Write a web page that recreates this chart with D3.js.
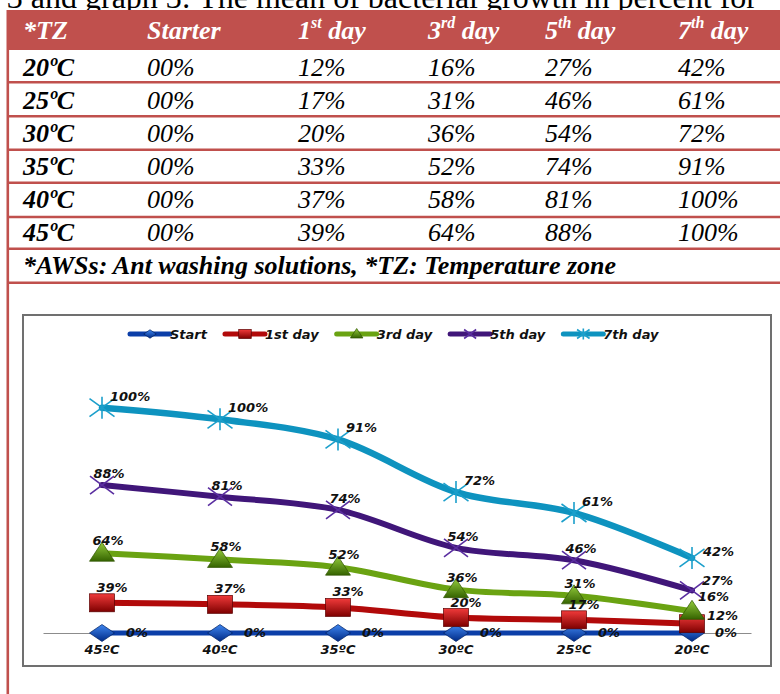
<!DOCTYPE html>
<html>
<head>
<meta charset="utf-8">
<script src="https://cdn.jsdelivr.net/npm/d3@7"></script>
<style>
  html, body { margin: 0; padding: 0; background: #fff; }
  svg { display: block; }
</style>
</head>
<body>
<svg id="chart" width="780" height="694"></svg>
<script>
// ---------- data ----------
const captionText = "Table 3 and graph 3: The mean of bacterial growth in percent for";
const categories = ["45ºC", "40ºC", "35ºC", "30ºC", "25ºC", "20ºC"];
const seriesNames = ["Start", "1st day", "3rd day", "5th day", "7th day"];
const startVals = [0, 0, 0, 0, 0, 0];
const day1Vals = [39, 37, 33, 20, 17, 12];
const day3Vals = [64, 58, 52, 36, 31, 16];
const day5Vals = [88, 81, 74, 54, 46, 27];
const day7Vals = [100, 100, 91, 72, 61, 42];
const tableHeader = ["*TZ", "Starter", "1st day", "3rd day", "5th day", "7th day"];
const tableZones = ["20ºC", "25ºC", "30ºC", "35ºC", "40ºC", "45ºC"];
const footnote = "*AWSs: Ant washing solutions, *TZ: Temperature zone";
const yMax = 350;

// ---------- styles ----------
const TABLE_RED = "#c0504d";
const serifFont = "'Liberation Serif', 'Times New Roman', serif";
const sansFont = "'DejaVu Sans', Verdana, sans-serif";
const seriesStyle = [
  {color: "#0b3ea8", width: 5, marker: "diamond", lab: {dx: 24, dy: 4, anchor: "start"}, last: {dx: 23, dy: 4}},
  {color: "#b20a0a", width: 6, marker: "square", lab: {dx: 10, dy: -11, anchor: "middle"}, last: {dx: 15, dy: -4}},
  {color: "#6aa312", width: 6, marker: "triangle", lab: {dx: 6, dy: -8, anchor: "middle"}, last: {dx: 6, dy: -10}},
  {color: "#401679", width: 6, marker: "x", lab: {dx: 7, dy: -7, anchor: "middle"}, last: {dx: 10, dy: -5}},
  {color: "#0e93bf", width: 6.5, marker: "star", lab: {dx: 8, dy: -7, anchor: "start"}, last: {dx: 11, dy: -2}}
];

const svg = d3.select("#chart");
const defs = svg.append("defs");
function grad(id, c1, c2) {
  const g = defs.append("linearGradient").attr("id", id).attr("x1", 0).attr("y1", 0).attr("x2", 0).attr("y2", 1);
  g.append("stop").attr("offset", "0%").attr("stop-color", c1);
  g.append("stop").attr("offset", "100%").attr("stop-color", c2);
}
grad("gBlue", "#3f86f0", "#002a86");
grad("gRed", "#f03a3a", "#7e0000");
grad("gGreen", "#93cc3c", "#356300");

// ---------- caption (cut at top) ----------
svg.append("text")
  .attr("x", 757).attr("y", 8)
  .attr("text-anchor", "end")
  .style("font-family", serifFont).style("font-size", "32px")
  .text(captionText);

// ---------- table ----------
const colX = [23, 147, 298, 428, 545, 678];
const rowBase = [76, 109, 142, 175, 208, 241];
const sepY = [82.2, 116.2, 149.8, 182.8, 217, 248.8, 282.8];

svg.append("rect").attr("x", 7).attr("y", 10).attr("width", 773).attr("height", 40).attr("fill", TABLE_RED);
svg.selectAll("line.sep").data(sepY).join("line")
  .attr("class", "sep")
  .attr("x1", 7).attr("x2", 780).attr("y1", d => d).attr("y2", d => d)
  .attr("stroke", TABLE_RED).attr("stroke-width", 2.6);
svg.append("line").attr("x1", 7.8).attr("x2", 7.8).attr("y1", 10).attr("y2", 694)
  .attr("stroke", TABLE_RED).attr("stroke-width", 2.6);

// header
const hdr = svg.append("g").style("font-family", serifFont).style("font-size", "26px")
  .style("font-style", "italic").style("font-weight", "bold").attr("fill", "#fff");
tableHeader.forEach((h, i) => {
  const t = hdr.append("text").attr("x", colX[i]).attr("y", 38.5);
  const m = h.match(/^(\d+)(st|nd|rd|th)(.*)$/);
  if (m) {
    t.append("tspan").text(m[1]);
    t.append("tspan").attr("dy", -11).style("font-size", "16px").text(m[2]);
    t.append("tspan").attr("dy", 11).text(m[3]);
  } else {
    t.text(h);
  }
});

// body rows (table lists 20ºC first: reverse of chart order)
const allSeries = [startVals, day1Vals, day3Vals, day5Vals, day7Vals];
const fmt2 = d3.format("02d");
const body = svg.append("g").style("font-family", serifFont).style("font-size", "26px")
  .style("font-style", "italic").attr("fill", "#000");
tableZones.forEach((z, r) => {
  const ci = categories.indexOf(z);
  body.append("text").attr("x", colX[0]).attr("y", rowBase[r]).style("font-weight", "bold").text(z);
  allSeries.forEach((s, j) => {
    body.append("text").attr("x", colX[j + 1]).attr("y", rowBase[r]).text(fmt2(s[ci]) + "%");
  });
});
body.append("text").attr("x", colX[0]).attr("y", 274).style("font-weight", "bold").text(footnote);

// ---------- chart ----------
svg.append("rect").attr("x", 23).attr("y", 315).attr("width", 748).attr("height", 351)
  .attr("fill", "#fff").attr("stroke", "#707070").attr("stroke-width", 2);

const xBand = d3.scaleBand().domain(categories).range([43, 751]);
const xc = c => xBand(c) + xBand.bandwidth() / 2;
const y = d3.scaleLinear().domain([0, yMax]).range([633, 362]);

const table = categories.map((c, i) => {
  const o = {cat: c};
  seriesNames.forEach((n, j) => o[n] = allSeries[j][i]);
  return o;
});
const stacked = d3.stack().keys(seriesNames)(table);

// axis
const axisG = svg.append("g").attr("transform", "translate(0,633)")
  .call(d3.axisBottom(xBand).tickSize(0).tickSizeOuter(0).tickPadding(12));
axisG.select(".domain").attr("stroke", "#8c8c8c").attr("stroke-width", 1);
axisG.selectAll("text").style("font-family", sansFont).style("font-size", "13px")
  .style("font-weight", "bold").style("font-style", "italic").attr("fill", "#111");

function drawMarker(g, type, s) {
  if (type === "diamond") {
    g.append("path").attr("d", `M0,${-8.5*s}L${12.5*s},0L0,${8.5*s}L${-12.5*s},0Z`)
      .attr("fill", "url(#gBlue)").attr("stroke", "#002060").attr("stroke-width", 0.7);
  } else if (type === "square") {
    g.append("rect").attr("x", -12.5*s).attr("y", -9*s).attr("width", 25*s).attr("height", 18*s)
      .attr("fill", "url(#gRed)").attr("stroke", "#5a0000").attr("stroke-width", 0.7);
  } else if (type === "triangle") {
    g.append("path").attr("d", `M0,${-11*s}L${12.5*s},${8*s}L${-12.5*s},${8*s}Z`)
      .attr("fill", "url(#gGreen)").attr("stroke", "#2f5400").attr("stroke-width", 0.7);
  } else if (type === "x") {
    g.append("path").attr("d", `M${-12*s},${-9*s}L${12*s},${9*s}M${-12*s},${9*s}L${12*s},${-9*s}`)
      .attr("stroke", "#5a2ea0").attr("stroke-width", 1.6).attr("fill", "none");
  } else if (type === "star") {
    g.append("path").attr("d", `M${-12.5*s},${-9*s}L${12.5*s},${9*s}M${-12.5*s},${9*s}L${12.5*s},${-9*s}M0,${-11*s}L0,${11*s}`)
      .attr("stroke", "#1b9fcb").attr("stroke-width", 1.6).attr("fill", "none");
  }
}

const line = d3.line()
  .x(d => xc(d.data.cat))
  .y(d => y(d[1]))
  .curve(d3.curveCatmullRom.alpha(0.5));

stacked.forEach((layer, j) => {
  const st = seriesStyle[j];
  const g = svg.append("g");
  g.append("path").datum(layer).attr("d", line)
    .attr("fill", "none").attr("stroke", st.color).attr("stroke-width", st.width)
    .attr("stroke-linejoin", "round").attr("stroke-linecap", "round");
  layer.forEach(d => {
    const mg = g.append("g").attr("transform", `translate(${xc(d.data.cat)},${y(d[1])})`);
    drawMarker(mg, st.marker, 1);
  });
});

// data labels
const labG = svg.append("g").style("font-family", sansFont).style("font-size", "13px")
  .style("font-weight", "bold").style("font-style", "italic").attr("fill", "#111");
stacked.forEach((layer, j) => {
  const st = seriesStyle[j];
  layer.forEach((d, i) => {
    const isLast = i === layer.length - 1;
    const o = isLast ? st.last : st.lab;
    labG.append("text")
      .attr("x", xc(d.data.cat) + o.dx)
      .attr("y", y(d[1]) + o.dy)
      .attr("text-anchor", isLast ? "start" : st.lab.anchor)
      .text(allSeries[j][i] + "%");
  });
});

// legend
const leg = svg.append("g").attr("transform", "translate(130,334)");
let lx = 0;
seriesNames.forEach((n, j) => {
  const st = seriesStyle[j];
  const g = leg.append("g").attr("transform", `translate(${lx},0)`);
  g.append("line").attr("x1", 0).attr("x2", 40).attr("y1", 0).attr("y2", 0)
    .attr("stroke", st.color).attr("stroke-width", 5).attr("stroke-linecap", "round");
  const mg = g.append("g").attr("transform", "translate(20,0)");
  drawMarker(mg, st.marker, 0.5);
  const t = g.append("text").attr("x", 40).attr("y", 4.5)
    .style("font-family", sansFont).style("font-size", "13px")
    .style("font-weight", "bold").style("font-style", "italic").attr("fill", "#111")
    .text(n);
  lx += 40 + t.node().getComputedTextLength() + 18;
});
</script>
</body>
</html>
